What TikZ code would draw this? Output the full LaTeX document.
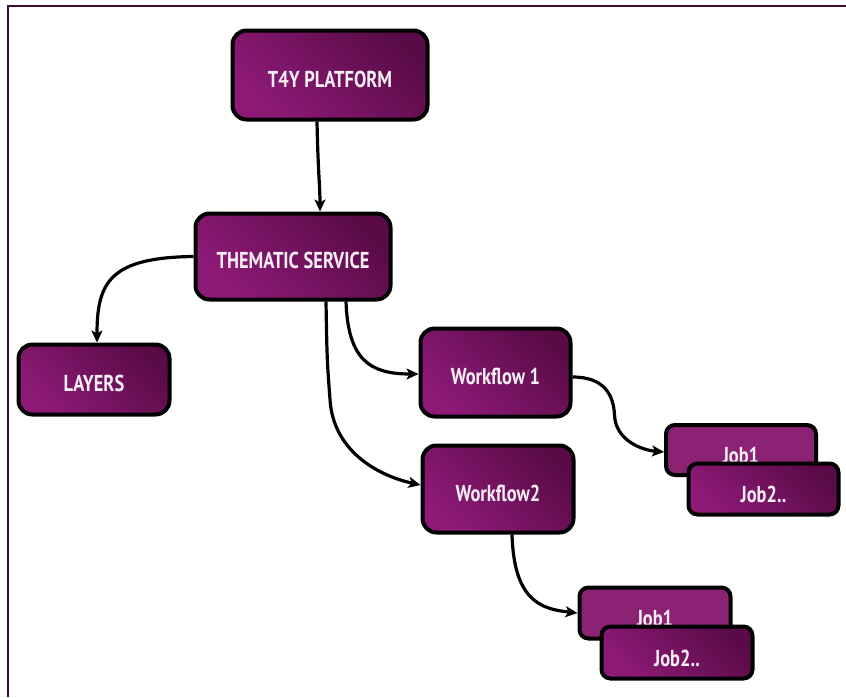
\documentclass[tikz,border=0pt]{standalone}
\usepackage{fontspec}
\setmainfont{PT Sans}[FakeStretch=0.80]
\usetikzlibrary{arrows.meta,calc}
\definecolor{framecol}{HTML}{3E0A34}
\definecolor{boxlight}{HTML}{8E1A78}
\definecolor{boxdark}{HTML}{5A0B47}
\definecolor{jobflat}{HTML}{8C2274}
\definecolor{txtcol}{HTML}{F6EEF5}
\tikzset{
  box/.style={draw=black, line width=4pt, rounded corners=14pt,
    top color=boxdark, bottom color=boxlight, shading angle=-45,
    text=txtcol, font=\fontsize{23pt}{26pt}\selectfont\bfseries,
    inner sep=0pt, align=center, text height=24pt, text depth=0pt},
  jobbox/.style={box, rounded corners=9pt, text height=27pt},
  jobback/.style={jobbox, fill=jobflat, top color=jobflat, bottom color=jobflat},
  conn/.style={draw=black, line width=3.2pt, -{Stealth[length=12pt,width=11pt,inset=3pt]}},
}
\begin{document}
\begin{tikzpicture}[x=1pt,y=-1pt]
\useasboundingbox (0,0) rectangle (846,697);
\draw[framecol, line width=2pt] (8,697) -- (8,6) -- (846,6);

\node[box, minimum width=195pt, minimum height=89pt] (t4y) at (330,75) {T4Y PLATFORM};
\node[box, minimum width=195pt, minimum height=86pt] (ts) at (293,256.5) {THEMATIC SERVICE};
\node[box, minimum width=151pt, minimum height=70pt] (lay) at (94,379.5) {LAYERS};
\node[box, minimum width=150pt, minimum height=88pt] (w1) at (495.5,372.5) {Workflow 1};
\node[box, minimum width=151pt, minimum height=87pt] (w2) at (498,489) {Workflow2};

\node[jobback, minimum width=150pt, minimum height=50pt] (j1a) at (741,450) {Job1};
\node[jobbox, minimum width=150pt, minimum height=51pt] (j2a) at (763.5,489) {Job2..};
\node[jobback, minimum width=151pt, minimum height=51pt] (j1b) at (655,613) {Job1};
\node[jobbox, minimum width=151pt, minimum height=52pt] (j2b) at (677,652.5) {Job2..};

\draw[conn] ($(t4y.south)+(-13,0)$) .. controls +(1,50) and +(0,-25) .. ($(ts.north)+(27,0)$);
\draw[conn] (ts.west) .. controls +(-84,1) and +(0,-60) .. ($(lay.north)+(3,0)$);
\draw[conn] ($(ts.south)+(53,0)$) .. controls +(2,58) and +(-49,0) .. ($(w1.west)+(0,1.5)$);
\draw[conn] ($(ts.south)+(33,0)$) .. controls +(1,58) .. ++(4,98) .. controls +(3,50) and +(-45,-10) .. ($(w2.west)+(0,-4)$);
\draw[conn] ($(w1.east)+(0,4.5)$) .. controls +(32,0) and +(-1,-20) .. ++(42,38) .. controls +(1,25) and +(-23,-2) .. ($(j1a.west)+(0,2)$);
\draw[conn] ($(w2.south)+(14,0)$) .. controls +(2,66) and +(-37,-4) .. (j1b.west);
\end{tikzpicture}
\end{document}
